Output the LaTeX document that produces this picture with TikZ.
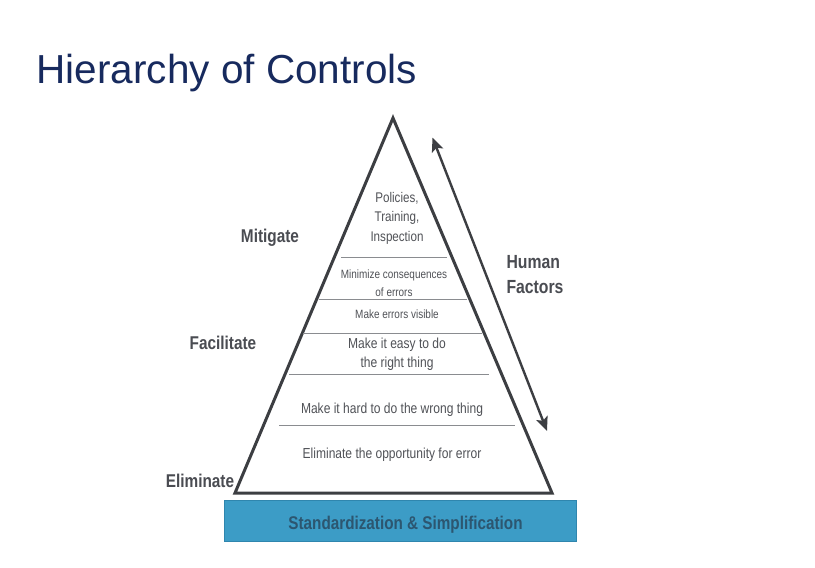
\documentclass[tikz,border=0pt]{standalone}
\usepackage{fontspec}
\setmainfont{Liberation Sans}
\newfontfamily\narrowf[FakeStretch=0.83]{Liberation Sans}
\usetikzlibrary{arrows.meta}
\definecolor{titleblue}{HTML}{172A5E}
\definecolor{edgegray}{HTML}{3C3E42}
\definecolor{divgray}{HTML}{8A8C90}
\definecolor{txtgray}{HTML}{505257}
\definecolor{lblgray}{HTML}{4A4C52}
\definecolor{barblue}{HTML}{3C9CC6}
\definecolor{barborder}{HTML}{2F86AE}
\definecolor{bartext}{HTML}{2C5670}
\tikzset{
  inner/.style={font=\narrowf\fontsize{14.5}{19}\selectfont, text=txtgray, align=center, inner sep=0pt},
  smallin/.style={font=\narrowf\fontsize{12}{18}\selectfont, text=txtgray, align=center, inner sep=0pt},
  sidelbl/.style={font=\narrowf\bfseries\fontsize{18.5}{25}\selectfont, text=lblgray, inner sep=0pt},
  divider/.style={draw=divgray, line width=1pt},
  edge/.style={draw=edgegray, line width=3pt, line join=miter},
  hfarrow/.style={draw=edgegray, line width=2.4pt, {Stealth[length=14pt,width=12pt,inset=3pt]}-{Stealth[length=14pt,width=12pt,inset=3pt]}}
}
\begin{document}
\begin{tikzpicture}[x=1pt,y=-1pt]
\useasboundingbox (0,0) rectangle (815,568);
\fill[white] (0,0) rectangle (815,568);
% title
\node[anchor=base west, inner sep=0pt, font=\fontsize{40.5}{48}\selectfont, text=titleblue] (title) at (36.5,83) {Hierarchy of Controls};
% bar
\node[draw=barborder, fill=barblue, line width=0.8pt, minimum width=352pt, minimum height=41pt, inner sep=0pt, anchor=north west] (bar) at (223.5,499.5) {};
\node[inner sep=0pt, font=\narrowf\bfseries\fontsize{18.4}{24}\selectfont, text=bartext] (bartxt) at (405.5,524.5) {Standardization \& Simplification};
% triangle
\coordinate (apex) at (393,118);
\coordinate (bl) at (235,493);
\coordinate (br) at (552,493);
\draw[edge] (apex) -- (br) -- (bl) -- cycle;
% dividers
\coordinate (d1a) at (341,257); \coordinate (d1b) at (447,257);
\coordinate (d2a) at (319,299.5); \coordinate (d2b) at (467,299.5);
\coordinate (d3a) at (303,333.5); \coordinate (d3b) at (482,333.5);
\coordinate (d4a) at (289,374); \coordinate (d4b) at (489,374);
\coordinate (d5a) at (279,425); \coordinate (d5b) at (515,425);
\draw[divider] (d1a) -- (d1b);
\draw[divider] (d2a) -- (d2b);
\draw[divider] (d3a) -- (d3b);
\draw[divider] (d4a) -- (d4b);
\draw[divider] (d5a) -- (d5b);
% inner texts
\node[inner, font=\narrowf\fontsize{14}{19.5}\selectfont] (t1) at (397,218) {Policies,\\Training,\\Inspection};
\node[smallin] (t2) at (394,283) {Minimize consequences\\of errors};
\node[smallin] (t3) at (397,314) {Make errors visible};
\node[inner] (t4) at (397,354) {Make it easy to do\\the right thing};
\node[inner] (t5) at (392,409.5) {Make it hard to do the wrong thing};
\node[inner] (t6) at (392,454.5) {Eliminate the opportunity for error};
% side labels
\node[sidelbl] (mit) at (270,238) {Mitigate};
\node[sidelbl] (fac) at (223,343) {Facilitate};
\node[sidelbl] (eli) at (200,481) {Eliminate};
\node[sidelbl, align=left, font=\narrowf\bfseries\fontsize{19}{25}\selectfont] (hf) at (535,274.5) {Human\\Factors};
% arrow
\coordinate (atop) at (432.5,137.5);
\coordinate (abot) at (547,431);
\draw[hfarrow] (atop) -- (abot);
\end{tikzpicture}
\end{document}
